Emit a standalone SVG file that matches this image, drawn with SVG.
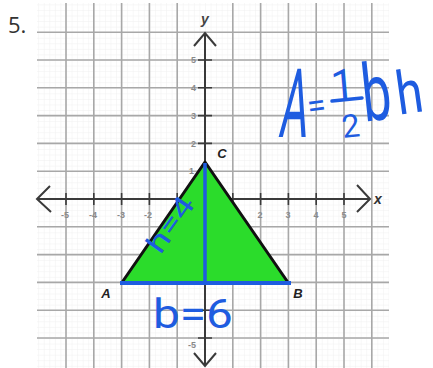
<svg xmlns="http://www.w3.org/2000/svg" width="433" height="368" viewBox="0 0 433 368">
<style>
.major{stroke:#a8a8a8;stroke-width:1.6;fill:none}
.axis{stroke:#3a3a3a;stroke-width:2;fill:none}
.tick{stroke:#3a3a3a;stroke-width:1.6}
.tl{font-family:"Liberation Sans",Arial,sans-serif;font-size:9px;font-weight:bold;fill:#8a8a8a;text-anchor:middle}
.tly{font-family:"Liberation Sans",Arial,sans-serif;font-size:9px;font-weight:bold;fill:#8a8a8a;text-anchor:end}
.pt{font-family:"Liberation Sans",Arial,sans-serif;font-size:13px;font-weight:bold;font-style:italic;fill:#222;text-anchor:middle}
.hw{font-family:Roboto,"DejaVu Sans",sans-serif;font-weight:400;fill:#1e5ce0;text-anchor:middle}
</style>
<defs>
<pattern id="minor" patternUnits="userSpaceOnUse" x="205" y="199" width="5.56" height="5.56">
<path d="M0 0H5.56M0 0V5.56" stroke="#f0f0f0" stroke-width="1" fill="none"/>
</pattern>
</defs>
<rect width="433" height="368" fill="#fff"/>
<text x="8" y="33" font-family="'Open Sans',sans-serif" font-size="22" fill="#333">5.</text>
<g id="grid">
<rect x="37" y="3" width="352" height="365" fill="url(#minor)"/>
<path class="major" d="M66 3V368M93.8 3V368M121.6 3V368M149.4 3V368M177.2 3V368M232.8 3V368M260.6 3V368M288.4 3V368M316.2 3V368M344 3V368M371.8 3V368"/>
<path class="major" d="M37 32.2H389M37 60H389M37 87.8H389M37 115.6H389M37 143.4H389M37 171.2H389M37 226.8H389M37 254.6H389M37 282.4H389M37 310.2H389M37 338H389"/>
</g>
<g id="axes">
<path class="axis" d="M37 199H370M50 186L37 199L51 212M357 185L370 199L357 212"/>
<path class="axis" d="M205 33V366M194 46L205 33L216 46M194 353L205 366L216 353"/>
<path class="tick" d="M66 193V205M93.8 193V205M121.6 193V205M149.4 193V205M177.2 193V205M232.8 193V205M260.6 193V205M288.4 193V205M316.2 193V205M344 193V205"/>
<path class="tick" d="M198 60H212M198 87.8H212M198 115.6H212M198 143.4H212M198 171.2H212M198 226.8H212M198 254.6H212M198 282.4H212M198 310.2H212M198 338H212"/>
<text class="tl" x="65" y="218">-5</text>
<text class="tl" x="93" y="218">-4</text>
<text class="tl" x="121" y="218">-3</text>
<text class="tl" x="148" y="218">-2</text>
<text class="tl" x="260" y="218">2</text>
<text class="tl" x="288" y="218">3</text>
<text class="tl" x="316" y="218">4</text>
<text class="tl" x="344" y="218">5</text>
<text class="tly" x="196" y="63">5</text>
<text class="tly" x="196" y="91">4</text>
<text class="tly" x="196" y="119">3</text>
<text class="tly" x="196" y="147">2</text>
<text class="tly" x="194" y="174">1</text>
<text class="tly" x="196" y="348">-5</text>
<text x="205" y="24" font-family="'Liberation Sans',Arial,sans-serif" font-size="14" font-weight="bold" font-style="italic" fill="#444" text-anchor="middle">y</text>
<text x="378" y="204" font-family="'Liberation Sans',Arial,sans-serif" font-size="14" font-weight="bold" font-style="italic" fill="#333" text-anchor="middle">x</text>
</g>
<g id="triangle">
<polygon points="121.6,283 205,162 288.4,283" fill="#2bdc2b"/>
<path d="M121.6 283L205 162L288.4 283" stroke="#111" stroke-width="3" fill="none" stroke-linejoin="round"/>
<path d="M120 283H291" stroke="#1e5ce0" stroke-width="4"/>
<path d="M205 163V283" stroke="#1e5ce0" stroke-width="3.5"/>
</g>
<g id="labels">
<text class="pt" x="106" y="298">A</text>
<text class="pt" x="298" y="298">B</text>
<text class="pt" x="222" y="158">C</text>
</g>
<g id="handwriting">
<text class="hw" font-size="96" transform="translate(292,137) skewX(-6) scale(0.45,1)">A</text>
<text class="hw" font-size="34" transform="translate(318,117) rotate(-8)">=</text>
<text class="hw" font-size="42" transform="translate(344,99) rotate(-5)">1</text>
<path d="M332 101L362 98" stroke="#1e5ce0" stroke-width="3.5" stroke-linecap="round"/>
<text class="hw" font-size="32" transform="translate(352,137) rotate(-6)">2</text>
<text class="hw" font-size="80" transform="translate(379,120) rotate(-6) scale(0.65,1)">b</text>
<text class="hw" font-size="60" transform="translate(412,113) rotate(-8) scale(0.8,1)">h</text>
<text class="hw" font-size="28" transform="translate(170,224) rotate(-55)" y="10" textLength="62" lengthAdjust="spacingAndGlyphs">h=4</text>
<text class="hw" font-size="40" x="193" y="328" textLength="80" lengthAdjust="spacingAndGlyphs">b=6</text>
</g>
</svg>
